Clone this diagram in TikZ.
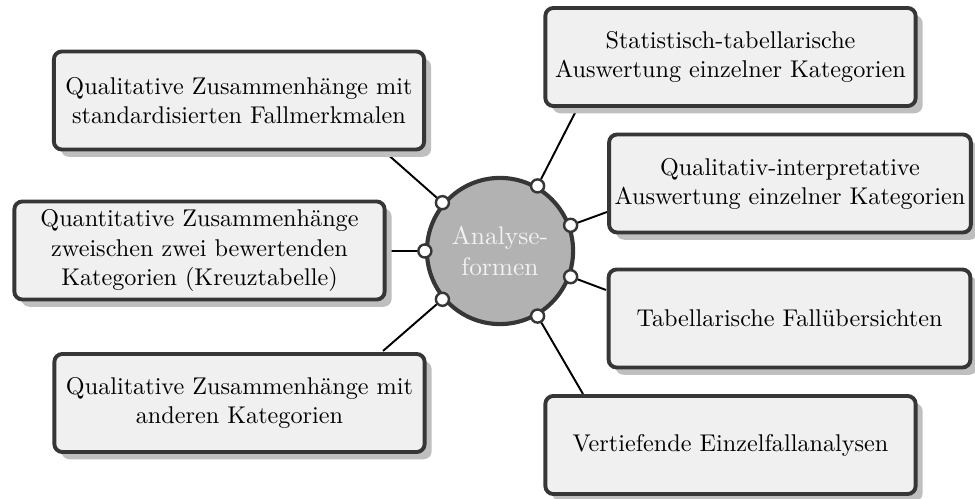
\documentclass[tikz,border=0pt]{standalone}
\usetikzlibrary{shadows}

\definecolor{boxfill}{gray}{0.94}
\definecolor{edge}{gray}{0.21}
\definecolor{hubfill}{gray}{0.70}
\definecolor{shadowgray}{gray}{0.75}
\definecolor{hubtext}{gray}{0.95}

\tikzset{
  topic/.style={
    draw=edge, line width=1.6pt, fill=boxfill, rounded corners=3.3pt,
    minimum width=153pt, minimum height=40.5pt, inner sep=1pt,
    align=center, font=\normalsize,
    drop shadow={shadow xshift=2.9pt, shadow yshift=-3pt, fill=shadowgray, opacity=1}
  },
  narrowtopic/.style={topic, minimum width=149.5pt},
  hub/.style={
    circle, draw=edge, line width=1.7pt, fill=hubfill,
    minimum size=60.4pt, inner sep=0pt, align=center, text=hubtext,
    font=\fontsize{10.5}{13}\selectfont
  },
  port/.style={
    circle, draw=edge, line width=1pt, fill=white,
    minimum size=5.4pt, inner sep=0pt
  },
  link/.style={line width=0.8pt, black}
}

\begin{document}
\begin{tikzpicture}[x=0.4132pt, y=-0.4132pt]
  \useasboundingbox (0,0) rectangle (975,499);

  % central hub
  \node[hub] (hub) at (500,251) {Analyse-\\formen};

  % ends of the radial links on the box borders
  \coordinate (e140) at (385,152);
  \coordinate (e180) at (387,251);
  \coordinate (e220) at (383,351);
  \coordinate (e60)  at (578,107);
  \coordinate (e20)  at (607,212);
  \coordinate (e340) at (606,290);
  \coordinate (e300) at (583,394);

  % ports on the hub rim
  \foreach \a in {140,180,220,60,20,340,300} {
    \coordinate (r\a) at (hub.\a);
  }
  \foreach \a in {140,180,220,60,20,340,300} {
    \draw[link] (r\a) -- (e\a);
  }
  \foreach \a in {140,180,220,60,20,340,300} {
    \node[port] (p\a) at (r\a) {};
  }

  % left column
  \node[topic] (t1) at (239,100.5) {Qualitative Zusammenhänge mit\\standardisierten Fallmerkmalen};
  \node[topic] (t6) at (199.5,250.5) {Quantitative Zusammenhänge\\zweischen zwei bewertenden\\Kategorien (Kreuztabelle)};
  \node[topic] (t7) at (239.5,403) {Qualitative Zusammenhänge mit\\anderen Kategorien};

  % right column
  \node[topic] (t2) at (730.5,57) {Statistisch-tabellarische\\Auswertung einzelner Kategorien};
  \node[narrowtopic] (t3) at (790,183.5) {Qualitativ-interpretative\\Auswertung einzelner Kategorien};
  \node[narrowtopic] (t4) at (789.5,318.5) {Tabellarische Fallübersichten};
  \node[topic] (t5) at (730.5,445) {Vertiefende Einzelfallanalysen};
\end{tikzpicture}
\end{document}
